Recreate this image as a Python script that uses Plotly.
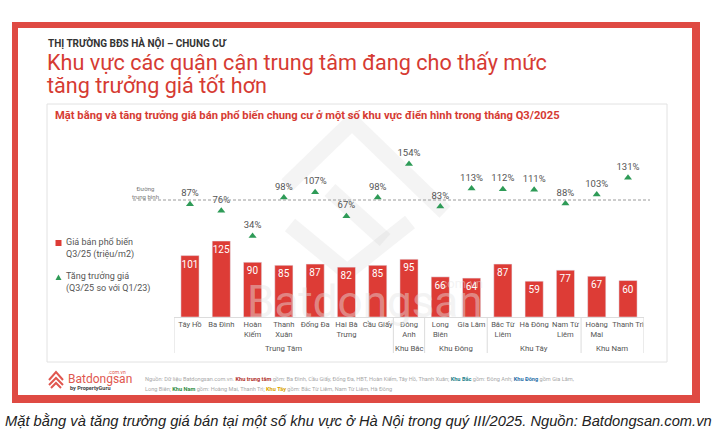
import plotly.graph_objects as go

W, H = 716, 436

# ---------------- data ----------------
districts = ["Tây Hồ", "Ba Đình", "Hoàn Kiếm", "Thanh Xuân", "Đống Đa", "Hai Bà Trưng",
             "Cầu Giấy", "Đông Anh", "Long Biên", "Gia Lâm", "Bắc Từ Liêm", "Hà Đông",
             "Nam Từ Liêm", "Hoàng Mai", "Thanh Trì"]
tick_labels = ["Tây Hồ", "Ba Đình", "Hoàn<br>Kiếm", "Thanh<br>Xuân", "Đống Đa", "Hai Bà<br>Trưng",
               "Cầu Giấy", "Đông<br>Anh", "Long<br>Biên", "Gia Lâm", "Bắc Từ<br>Liêm", "Hà Đông",
               "Nam Từ<br>Liêm", "Hoàng<br>Mai", "Thanh Trì"]
price = [101, 125, 90, 85, 87, 82, 85, 95, 66, 64, 87, 59, 77, 67, 60]          # triệu/m2
growth = [87, 76, 34, 98, 107, 67, 98, 154, 83, 113, 112, 111, 88, 103, 131]    # %
average_growth = 94
regions = ["Trung Tâm", "Khu Bắc", "Khu Đông", "Khu Tây", "Khu Nam"]
region_sizes = [7, 1, 2, 3, 2]

# ---------------- helpers (pixel -> paper) ----------------
def px(x):
    return x / W

def py(y):
    return 1 - y / H

RED = "#dd3c36"
TITLE_RED = "#d63b33"
GREEN = "#2e9b57"
FRAME = "#df4a43"
FONT = "Roboto"

fig = go.Figure()

fig.add_trace(go.Bar(
    x=districts, y=price, marker_color=RED, width=0.58,
    text=price, texttemplate="%{y}", textposition="inside", insidetextanchor="end",
    textfont=dict(color="white", size=10, family=FONT), textangle=0,
    showlegend=False, hoverinfo="x+y"
))
fig.add_trace(go.Scatter(
    x=districts, y=growth, yaxis="y2", mode="markers+text",
    marker=dict(symbol="triangle-up", size=7, color=GREEN),
    texttemplate="%{y}%", textposition="top center",
    textfont=dict(color="#555555", size=9.5, family=FONT),
    showlegend=False, cliponaxis=False
))

shapes = []
annotations = []

# outer red frame
for (x0, y0, x1, y1) in [(12, 22, 700, 28), (12, 22, 18, 403), (692, 22, 700, 403), (12, 395, 700, 403)]:
    shapes.append(dict(type="rect", xref="paper", yref="paper", x0=px(x0), x1=px(x1),
                       y0=py(y1), y1=py(y0), fillcolor=FRAME, line_width=0, layer="below"))
# inner light box
shapes.append(dict(type="rect", xref="paper", yref="paper", x0=px(47), x1=px(667),
                   y0=py(362), y1=py(104), line=dict(color="#e2e2e2", width=1),
                   fillcolor="rgba(0,0,0,0)", layer="below"))

# faint watermark logo (house shape)
wm_line = dict(color="rgba(200,200,200,0.2)", width=16)
def path(points):
    return "M " + " L ".join(f"{px(a):.5f} {py(b):.5f}" for a, b in points)
shapes.append(dict(type="path", xref="paper", yref="paper",
                   path=path([(287, 185), (352, 122), (445, 212)]), line=wm_line, layer="below"))
shapes.append(dict(type="path", xref="paper", yref="paper",
                   path=path([(290, 225), (347, 272), (410, 222)]), line=wm_line, layer="below"))
shapes.append(dict(type="path", xref="paper", yref="paper",
                   path=path([(330, 190), (385, 240)]), line=wm_line, layer="below"))

# average line
shapes.append(dict(type="line", xref="paper", yref="y2", x0=px(133), x1=px(650),
                   y0=average_growth, y1=average_growth,
                   line=dict(color="#9a9a9a", width=1, dash="3px,2px")))
annotations.append(dict(xref="paper", yref="paper", x=px(145), y=py(192.5), text="Đường<br>trung bình",
                        showarrow=False, font=dict(size=6, color="#777777", family=FONT),
                        xanchor="center", yanchor="middle", align="center"))

# region separators and labels
start = 0
for name, size in zip(regions, region_sizes):
    end = start + size - 1
    shapes.append(dict(type="line", xref="x", yref="paper", x0=start - 0.5, x1=start - 0.5,
                       y0=py(353), y1=py(317), line=dict(color="#dcdcdc", width=1)))
    annotations.append(dict(xref="x", yref="paper", x=(start + end) / 2, y=py(348), text=name,
                            showarrow=False, font=dict(size=7.8, color="#555555", family=FONT),
                            xanchor="center", yanchor="middle"))
    start = end + 1
shapes.append(dict(type="line", xref="x", yref="paper", x0=start - 0.5, x1=start - 0.5,
                   y0=py(353), y1=py(317), line=dict(color="#dcdcdc", width=1)))

# legend (manual)
shapes.append(dict(type="rect", xref="paper", yref="paper", x0=px(55.5), x1=px(61.5),
                   y0=py(246), y1=py(240), fillcolor=RED, line_width=0))
shapes.append(dict(type="path", xref="paper", yref="paper",
                   path=path([(55.5, 280), (61.5, 280), (58.5, 274.5)]) + " Z",
                   fillcolor=GREEN, line_width=0))
annotations.append(dict(xref="paper", yref="paper", x=px(64), y=py(248), text="Giá bán phổ biến<br>Q3/25 (triệu/m2)",
                        showarrow=False, font=dict(size=9, color="#555555", family=FONT),
                        xanchor="left", yanchor="middle", align="left"))
annotations.append(dict(xref="paper", yref="paper", x=px(64), y=py(282.5), text="Tăng trưởng giá<br>(Q3/25 so với Q1/23)",
                        showarrow=False, font=dict(size=9, color="#555555", family=FONT),
                        xanchor="left", yanchor="middle", align="left"))

# titles
annotations.append(dict(xref="paper", yref="paper", x=px(46), y=py(43), text="<b>THỊ TRƯỜNG BĐS HÀ NỘI – CHUNG CƯ</b>",
                        showarrow=False, font=dict(size=10, color="#333333", family=FONT),
                        xanchor="left", yanchor="middle"))
annotations.append(dict(xref="paper", yref="paper", x=px(45), y=py(63),
                        text="Khu vực các quận cận trung tâm đang cho thấy mức",
                        showarrow=False, font=dict(size=21.6, color=TITLE_RED, family=FONT),
                        xanchor="left", yanchor="middle", align="left"))
annotations.append(dict(xref="paper", yref="paper", x=px(45), y=py(85),
                        text="tăng trưởng giá tốt hơn",
                        showarrow=False, font=dict(size=21.6, color=TITLE_RED, family=FONT),
                        xanchor="left", yanchor="middle", align="left"))
annotations.append(dict(xref="paper", yref="paper", x=px(53), y=py(116),
                        text="<b>Mặt bằng và tăng trưởng giá bán phổ biến chung cư ở một số khu vực điển hình trong tháng Q3/2025</b>",
                        showarrow=False, font=dict(size=11.2, color=TITLE_RED, family=FONT),
                        xanchor="left", yanchor="middle"))

# watermark text
annotations.append(dict(xref="paper", yref="paper", x=px(365), y=py(302), text="Batdongsan",
                        showarrow=False, font=dict(size=44, color="rgba(228,228,228,0.45)", family=FONT),
                        xanchor="center", yanchor="middle"))
annotations.append(dict(xref="paper", yref="paper", x=px(460), y=py(283), text=".com.vn",
                        showarrow=False, font=dict(size=13, color="rgba(228,228,228,0.45)", family=FONT),
                        xanchor="center", yanchor="middle"))

# footer logo
shapes.append(dict(type="path", xref="paper", yref="paper",
                   path=path([(49, 380), (56, 372), (63, 380)]), line=dict(color="#e0574f", width=2)))
shapes.append(dict(type="path", xref="paper", yref="paper",
                   path=path([(49, 385), (56, 378), (63, 385)]), line=dict(color="#e0574f", width=2)))
shapes.append(dict(type="path", xref="paper", yref="paper",
                   path=path([(51, 388), (56, 383), (61, 388)]), line=dict(color="#e0574f", width=2)))
annotations.append(dict(xref="paper", yref="paper", x=px(66), y=py(379), text="Batdongsan",
                        showarrow=False, font=dict(size=12, color="#e0574f", family=FONT),
                        xanchor="left", yanchor="middle"))
annotations.append(dict(xref="paper", yref="paper", x=px(128), y=py(371.5), text=".com.vn",
                        showarrow=False, font=dict(size=5, color="#e0574f", family=FONT),
                        xanchor="right", yanchor="middle"))
annotations.append(dict(xref="paper", yref="paper", x=px(68), y=py(388), text="<b>by PropertyGuru</b>",
                        showarrow=False, font=dict(size=5.5, color="#444444", family=FONT),
                        xanchor="left", yanchor="middle"))
foot1 = ("Nguồn: Dữ liệu Batdongsan.com.vn. <b><span style='color:#b0302a'>Khu trung tâm</span></b> gồm: Ba Đình, Cầu Giấy, "
         "Đống Đa, HBT, Hoàn Kiếm, Tây Hồ, Thanh Xuân; <b><span style='color:#1d7f8c'>Khu Bắc</span></b> gồm: Đông Anh; "
         "<b><span style='color:#2a6fa8'>Khu Đông</span></b> gồm Gia Lâm,")
foot2 = ("Long Biên; <b><span style='color:#2e8b3d'>Khu Nam</span></b> gồm: Hoàng Mai, Thanh Trì; "
         "<b><span style='color:#d9a400'>Khu Tây</span></b> gồm: Bắc Từ Liêm, Nam Từ Liêm, Hà Đông")
annotations.append(dict(xref="paper", yref="paper", x=px(143), y=py(378.5), text=foot1,
                        showarrow=False, font=dict(size=5.6, color="#a8a8a8", family=FONT),
                        xanchor="left", yanchor="middle"))
annotations.append(dict(xref="paper", yref="paper", x=px(143), y=py(389), text=foot2,
                        showarrow=False, font=dict(size=5.6, color="#a8a8a8", family=FONT),
                        xanchor="left", yanchor="middle"))

# caption
annotations.append(dict(xref="paper", yref="paper", x=px(358), y=py(420.5),
                        text="<i>Mặt bằng và tăng trưởng giá bán tại một số khu vực ở Hà Nội trong quý III/2025. Nguồn: Batdongsan.com.vn</i>",
                        showarrow=False, font=dict(size=14.7, color="#222222", family="Liberation Sans, Arial"),
                        xanchor="center", yanchor="middle"))

x_left, x_right = 174.35, 643.65
fig.update_layout(
    width=W, height=H, margin=dict(l=0, r=0, t=0, b=0),
    paper_bgcolor="white", plot_bgcolor="rgba(0,0,0,0)",
    font=dict(family=FONT),
    xaxis=dict(domain=[px(x_left), px(x_right)], type="category",
               tickvals=districts, ticktext=tick_labels, tickangle=0,
               tickfont=dict(size=7.6, color="#555555", family=FONT),
               showline=True, linecolor="#dcdcdc", linewidth=1, ticks="",
               showgrid=False, zeroline=False, fixedrange=True, range=[-0.5, 14.5]),
    yaxis=dict(domain=[py(317), py(130)], range=[0, 187 / 0.608], visible=False,
               showgrid=False, zeroline=False, fixedrange=True),
    yaxis2=dict(domain=[py(317), py(130)], overlaying="y", range=[-101, 210.7], visible=False,
                showgrid=False, zeroline=False, fixedrange=True),
    bargap=0.42,
    uniformtext=dict(minsize=10, mode="show"),
    shapes=shapes, annotations=annotations,
)

fig.write_html("out.html")
